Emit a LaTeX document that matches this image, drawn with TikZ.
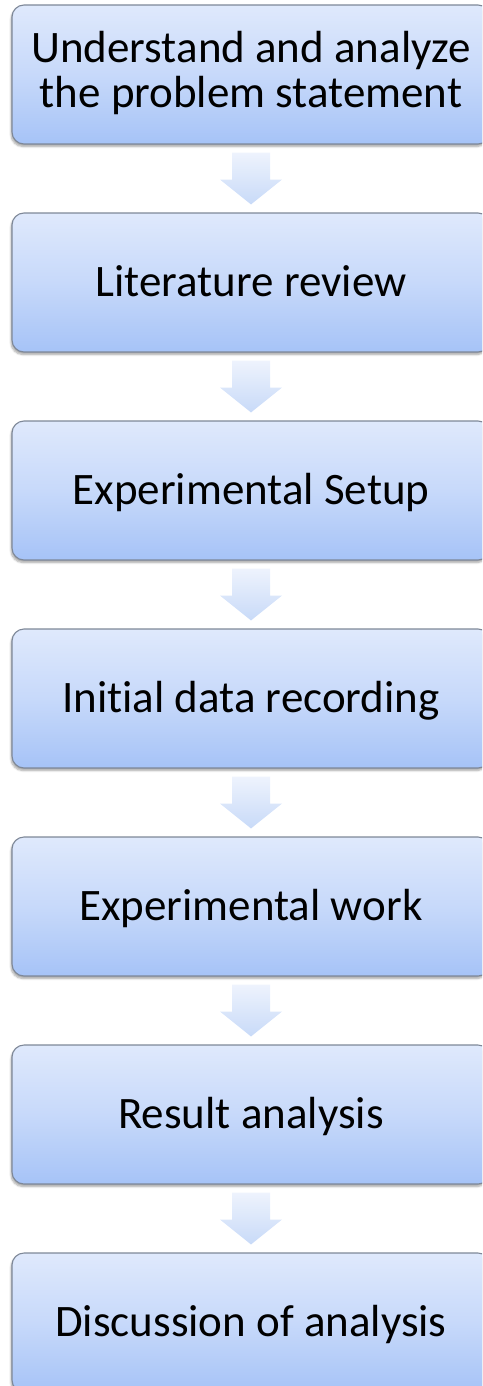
\documentclass[tikz,border=0pt]{standalone}
\usepackage{fontspec}
\setmainfont{Carlito}[Ligatures=NoCommon]
\usetikzlibrary{calc,shadows.blur}
\definecolor{boxtop}{HTML}{DFE9FC}
\definecolor{boxmid}{HTML}{C7D9FA}
\definecolor{boxbot}{HTML}{A6C3F7}
\definecolor{boxline}{HTML}{7E8898}
\definecolor{arrtop}{HTML}{EEF3FD}
\definecolor{arrbot}{HTML}{C8DAF8}
\newcommand\connarrow[2]{%
  \shade[flowarrow] ($(#1.south)+(-19,8)$) -- ($(#1.south)+(19,8)$) -- ($(#1.south)+(19,35)$) -- ($(#1.south)+(31,35)$) -- ($(#2.north)+(0,-8)$) -- ($(#1.south)+(-31,35)$) -- ($(#1.south)+(-19,35)$) -- cycle;}
\begin{document}
\begin{tikzpicture}[x=1pt,y=-1pt,
  stepbox/.style={draw=boxline, line width=1.1pt, rounded corners=12pt,
    top color=boxtop, bottom color=boxbot, middle color=boxmid,
    minimum width=478pt, minimum height=139pt, inner sep=0pt, align=center,
    font=\fontsize{45}{45}\selectfont, text height=28.5pt, text depth=0pt,
    blur shadow={shadow xshift=-1pt, shadow yshift=-2.5pt, shadow blur steps=6, shadow opacity=35}},
  flowarrow/.style={top color=arrtop, bottom color=arrbot, draw=none}]
\useasboundingbox (0,0) rectangle (482,1386);
\clip (0,0) rectangle (482,1386);
\node[stepbox, text height=73pt, text depth=6pt] (s1) at (251,74.5) {Understand and analyze\\the problem statement};
\node[stepbox] (s2) at (251,282.5) {Literature review};
\node[stepbox] (s3) at (251,490.5) {Experimental Setup};
\node[stepbox] (s4) at (251,698.5) {Initial data recording};
\node[stepbox] (s5) at (251,906.5) {Experimental work};
\node[stepbox] (s6) at (251,1114.5) {Result analysis};
\node[stepbox] (s7) at (251,1322.5) {Discussion of analysis};
\connarrow{s1}{s2}
\connarrow{s2}{s3}
\connarrow{s3}{s4}
\connarrow{s4}{s5}
\connarrow{s5}{s6}
\connarrow{s6}{s7}
\end{tikzpicture}
\end{document}
